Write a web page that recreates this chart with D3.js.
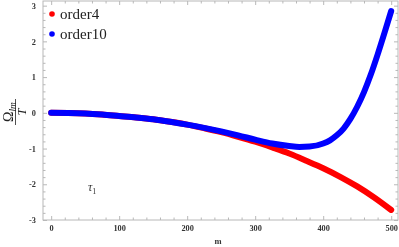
<!DOCTYPE html>
<html><head><meta charset="utf-8">
<script src="https://cdn.jsdelivr.net/npm/d3@7"></script>
<style>body{margin:0;background:#fff}svg{display:block}</style>
</head><body>
<svg id="c" width="399" height="247"></svg>
<script>
// Data
const mOrder4 = [0,25,50,75,100,125,150,175,200,225,250,275,300,325,350,375,400,425,450,475,500];
const vOrder4 = [0,-0.005,-0.02,-0.05,-0.09,-0.13,-0.18,-0.25,-0.33,-0.43,-0.54,-0.67,-0.81,-0.97,-1.14,-1.34,-1.55,-1.79,-2.06,-2.37,-2.72];
const mOrder10 = [0,25,50,75,100,125,150,175,200,225,250,275,300,325,350,365,380,400,410,420,430,440,450,460,470,480,490,500];
const vOrder10 = [0,-0.005,-0.02,-0.05,-0.09,-0.13,-0.18,-0.25,-0.33,-0.42,-0.52,-0.63,-0.75,-0.86,-0.93,-0.955,-0.945,-0.86,-0.77,-0.63,-0.44,-0.17,0.17,0.58,1.07,1.63,2.23,2.85];
const xTicks = [0,100,200,300,400,500];
const yTicks = [-3,-2,-1,0,1,2,3];
const seriesNames = ["order4","order10"];
const seriesColors = ["#ff0000","#0000ff"];

const svg = d3.select("#c");
const L=43, R=398, T=1, B=220;
const x = d3.scaleLinear().domain([-12,510]).range([L,R]);
const y = d3.scaleLinear().domain([-3.0,3.13]).range([B,T]);

const frameCol = "#b8b8b8";
const lab = "#333";
const g = svg.append("g");

const xMinor = d3.range(0,511,20).filter(v=>v%100!==0);
const yMinor = d3.range(-3,3.13,0.2).map(v=>Math.round(v*10)/10).filter(v=>Math.abs(v-Math.round(v))>1e-6);

function axis(gen, tr, ticks, size){
  const a = g.append("g").attr("transform",tr).call(gen.tickValues(ticks).tickSize(size).tickSizeOuter(0).tickFormat(()=>""));
  a.select(".domain").remove();
  a.selectAll(".tick line").attr("stroke",frameCol).attr("stroke-width",1);
  return a;
}
axis(d3.axisTop(x), `translate(0,${B})`, xTicks, 4);
axis(d3.axisTop(x), `translate(0,${B})`, xMinor, 2.5);
axis(d3.axisBottom(x), `translate(0,${T})`, xTicks, 4);
axis(d3.axisBottom(x), `translate(0,${T})`, xMinor, 2.5);
axis(d3.axisRight(y), `translate(${L},0)`, yTicks, 4);
axis(d3.axisRight(y), `translate(${L},0)`, yMinor, 2.5);
axis(d3.axisLeft(y), `translate(${R},0)`, yTicks, 4);
axis(d3.axisLeft(y), `translate(${R},0)`, yMinor, 2.5);

// tick labels
const textG = svg.append("g").attr("opacity",0.995);
const xl = d3.axisBottom(x).tickValues(xTicks).tickSize(0).tickPadding(5).tickFormat(d3.format("d"));
const xla = textG.append("g").attr("transform",`translate(0,${B})`).call(xl);
xla.select(".domain").remove();
xla.selectAll("text").attr("font-family","Liberation Serif, DejaVu Serif, serif").attr("font-size",8.3).attr("font-weight","bold").attr("fill",lab);
const yl = d3.axisLeft(y).tickValues(yTicks).tickSize(0).tickPadding(7).tickFormat(d=>d<0?"-"+Math.abs(d):d);
const yla = textG.append("g").attr("transform",`translate(${L},0)`).call(yl);
yla.select(".domain").remove();
yla.selectAll("text").attr("font-family","Liberation Serif, DejaVu Serif, serif").attr("font-size",8.3).attr("font-weight","bold").attr("fill",lab);

// frame
g.append("rect").attr("x",L).attr("y",T).attr("width",R-L).attr("height",B-T)
 .attr("fill","none").attr("stroke",frameCol).attr("stroke-width",1);

// series
const line = d3.line().x(d=>x(d[0])).y(d=>y(d[1])).curve(d3.curveMonotoneX);
const d4 = mOrder4.map((m,i)=>[m,vOrder4[i]]);
const d10 = mOrder10.map((m,i)=>[m,vOrder10[i]]);
svg.append("path").datum(d4).attr("d",line).attr("fill","none").attr("stroke",seriesColors[0]).attr("stroke-width",6).attr("stroke-linecap","round").attr("stroke-linejoin","round");
svg.append("path").datum(d10).attr("d",line).attr("fill","none").attr("stroke",seriesColors[1]).attr("stroke-width",6).attr("stroke-linecap","round").attr("stroke-linejoin","round");

// legend
const legG = svg.append("g").attr("opacity",0.995);
seriesNames.forEach((n,i)=>{
  const yy = 14 + i*20;
  legG.append("circle").attr("cx",52).attr("cy",yy).attr("r",2.8).attr("fill",seriesColors[i]);
  legG.append("text").attr("x",60).attr("y",yy+5).text(n)
    .attr("font-family","Liberation Serif, DejaVu Serif, serif").attr("font-size",15).attr("fill","#222");
});

// axis label m
textG.append("text").attr("x",218).attr("y",244).attr("text-anchor","middle").text("m")
  .attr("font-family","Liberation Serif, serif").attr("font-size",8.5).attr("font-weight","bold").attr("fill",lab);

// y label fraction rotated
const yg = textG.append("g").attr("transform","translate(15,112) rotate(-90)");
const num = yg.append("text").attr("x",0).attr("y",-2.5).attr("text-anchor","middle")
  .attr("font-family","Liberation Serif, serif").attr("font-size",14).attr("fill","#222");
num.append("tspan").text("Ω");
num.append("tspan").attr("font-size",9.5).attr("font-style","italic").attr("dy",3).text("lm");
yg.append("line").attr("x1",-13).attr("x2",13).attr("y1",0.5).attr("y2",0.5).attr("stroke","#222").attr("stroke-width",0.8);
yg.append("text").attr("x",0).attr("y",10.5).attr("text-anchor","middle").text("T")
  .attr("font-family","Liberation Serif, serif").attr("font-size",12.5).attr("font-style","italic").attr("fill","#222");

// tau label
const tt = textG.append("text").attr("x",88).attr("y",191)
  .attr("font-family","Liberation Serif, serif").attr("font-size",12).attr("fill","#333");
tt.append("tspan").attr("font-style","italic").text("τ");
tt.append("tspan").attr("font-size",8).attr("dy",2.5).text("1");
</script>
</body></html>
